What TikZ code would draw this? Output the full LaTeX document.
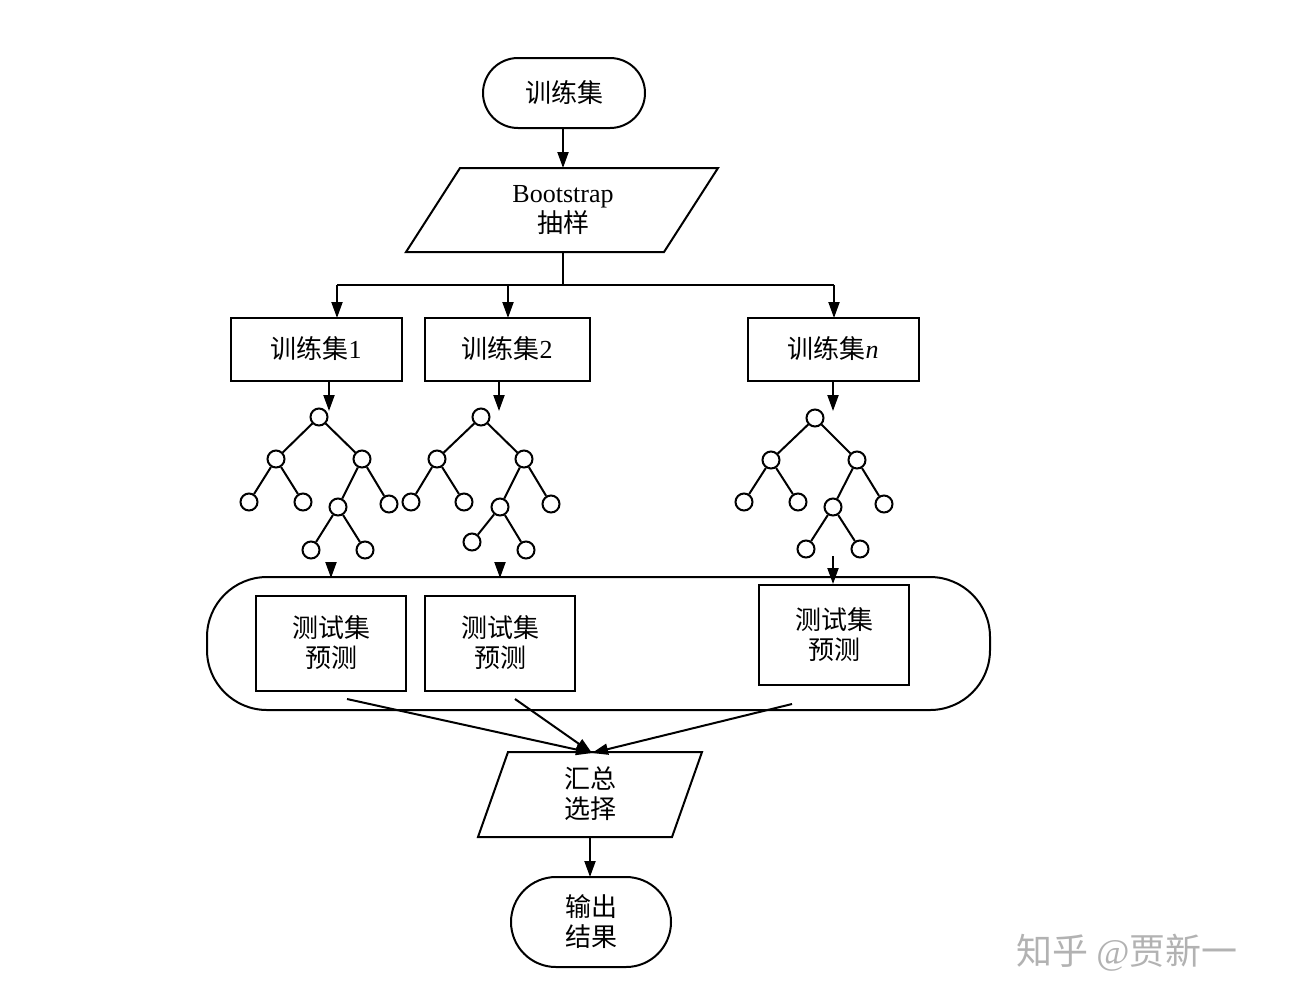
\documentclass[tikz,border=0pt]{standalone}
\usepackage{fontspec}
\setmainfont{Liberation Serif}
\newfontfamily\cjk{Noto Sans CJK SC}
\usetikzlibrary{arrows.meta}
\begin{document}
\begin{tikzpicture}[x=1pt,y=-1pt,line width=2pt,
  ar/.style={-{Triangle[length=16pt,width=11pt]}},
  tn/.style={circle,draw,minimum size=17pt,inner sep=0pt},
  tx/.style={font=\fontsize{26}{30}\selectfont\cjk,align=center}]
\useasboundingbox (0,0) rectangle (1289,1002);
% top
\draw[rounded corners=35pt] (483,58) rectangle (645,128);
\node[tx] (t0) at (564,93) {训练集};
\coordinate (t0b) at (563,128);
\draw (460,168) -- (718,168) -- (664,252) -- (406,252) -- cycle;
\node[tx,align=center] (bs) at (563,210) {{\rmfamily Bootstrap}\\抽样};
\coordinate (bst) at (563,168);
\draw[ar] (t0b) -- (bst);
\coordinate (bsb) at (563,252);
\coordinate (j) at (563,285);
\draw (bsb) -- (j);
\draw (337,285) -- (834,285);
% boxes
\draw (231,318) rectangle (402,381);
\draw (425,318) rectangle (590,381);
\draw (748,318) rectangle (919,381);
\node[tx] (b1) at (316,349) {训练集{\rmfamily 1}};
\node[tx] (b2) at (507,349) {训练集{\rmfamily 2}};
\node[tx] (bn) at (833,349) {训练集{\rmfamily\itshape n}};
\foreach \x/\n in {337/a,508/b,834/c}{
  \coordinate (u\n) at (\x,285); \coordinate (d\n) at (\x,318);
  \draw[ar] (u\n) -- (d\n);}
% trees
\foreach \p/\r/\L/\R/\LL/\LR/\RL/\RR/\RLL/\RLR in {
 a/{319,417}/{276,459}/{362,459}/{249,502}/{303,502}/{338,507}/{389,504}/{311,550}/{365,550},
 b/{481,417}/{437,459}/{524,459}/{411,502}/{464,502}/{500,507}/{551,504}/{472,542}/{526,550},
 c/{815,418}/{771,460}/{857,460}/{744,502}/{798,502}/{833,507}/{884,504}/{806,549}/{860,549}}{
  \node[tn] (\p r) at (\r) {};
  \node[tn] (\p L) at (\L) {};
  \node[tn] (\p R) at (\R) {};
  \node[tn] (\p LL) at (\LL) {};
  \node[tn] (\p LR) at (\LR) {};
  \node[tn] (\p RL) at (\RL) {};
  \node[tn] (\p RR) at (\RR) {};
  \node[tn] (\p RLL) at (\RLL) {};
  \node[tn] (\p RLR) at (\RLR) {};
  \draw (\p r)--(\p L) (\p r)--(\p R) (\p L)--(\p LL) (\p L)--(\p LR)
        (\p R)--(\p RL) (\p R)--(\p RR) (\p RL)--(\p RLL) (\p RL)--(\p RLR);
}
\foreach \x/\n in {329/a,499/b,833/c}{
  \coordinate (s\n) at (\x,381); \coordinate (e\n) at (\x,411);
  \draw[ar] (s\n) -- (e\n);}
% big rounded
\draw[rounded corners=60pt] (207,577) rectangle (990,710);
\draw (256,596) rectangle (406,691);
\draw (425,596) rectangle (575,691);
\draw (759,585) rectangle (909,685);
\node[tx] (p1) at (331,643) {测试集\\预测};
\node[tx] (p2) at (500,643) {测试集\\预测};
\node[tx] (pn) at (834,635) {测试集\\预测};
\foreach \x/\a/\b/\n in {331/562/578/a,500/562/578/b,833/556/584/c}{
  \coordinate (q\n) at (\x,\a); \coordinate (w\n) at (\x,\b);
  \draw[ar] (q\n) -- (w\n);}
% merge
\draw (508,752) -- (702,752) -- (672,837) -- (478,837) -- cycle;
\node[tx] (hz) at (590,794) {汇总\\选择};
\coordinate (m1) at (347,699); \coordinate (m2) at (515,699); \coordinate (m3) at (792,704);
\coordinate (mt) at (592,753);
\draw[ar] (m1) -- (mt); \draw[ar] (m2) -- (mt); \draw[ar] (m3) -- (mt);
\coordinate (hb) at (590,837); \coordinate (ot) at (590,877);
\draw[ar] (hb) -- (ot);
\draw (511,922) arc[start angle=180,end angle=270,radius=45pt] -- (626,967)
  arc[start angle=270,end angle=450,radius=45pt] -- (556,877)
  arc[start angle=90,end angle=180,radius=45pt] -- cycle;
\node[tx] (out) at (591,922) {输出\\结果};
\node[font=\fontsize{36}{38}\selectfont\cjk,text=black!30,anchor=west] (wm) at (1012,953) {知乎 {\rmfamily @}贾新一};
\end{tikzpicture}
\end{document}
